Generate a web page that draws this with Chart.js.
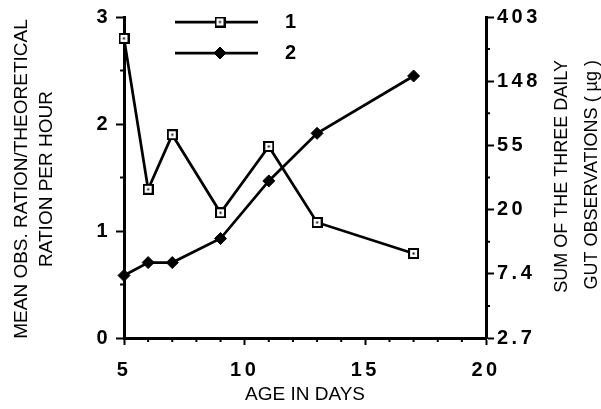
<!DOCTYPE html>
<html>
<head>
<meta charset="utf-8">
<script src="https://cdn.jsdelivr.net/npm/chart.js@4"></script>
<style>
  body { margin: 0; background: #fff; }
  canvas { display: block; }
</style>
</head>
<body>
<canvas id="ageChart" width="601" height="409"></canvas>
<script>
// age (days) against feeding ratio (left, linear) and gut content (right, ln scale)
const days = [5, 6, 7, 9, 11, 13, 17];
const ratioPerHour = [2.80, 1.39, 1.90, 1.17, 1.79, 1.08, 0.79];
const gutSum = [7.2, 8.8, 8.8, 12.8, 31.4, 65.9, 161];
const seriesNames = ['1', '2'];

const dayTicks = [5, 10, 15, 20];
const dayMinorTicks = [6, 7, 8, 9, 11, 12, 13, 14, 16, 17, 18, 19];
const ratioTicks = [0, 1, 2, 3];
const ratioMinorTicks = [0.5, 1.5, 2.5];
const gutTicks = [2.718, 7.389, 20.09, 54.6, 148.4, 403.4];
const gutTickLabels = ['2.7', '7.4', '20', '55', '148', '403'];
const gutMinorTicks = [4.482, 12.18, 33.12, 90.02, 244.7];

const xTitle = 'AGE IN DAYS';
const yTitle = ['MEAN OBS. RATION/THEORETICAL', 'RATION PER HOUR'];
const y1Title = ['SUM OF THE THREE DAILY', 'GUT OBSERVATIONS ( µg )'];

const FAMILY = '"Liberation Sans", Arial, Helvetica, sans-serif';
const tickFont = { family: FAMILY, size: 20, weight: 'bold' };

// open square with a dot in the middle
function squareMarker() {
  const c = document.createElement('canvas');
  c.width = 11; c.height = 11;
  const g = c.getContext('2d');
  g.fillStyle = '#000'; g.fillRect(0, 0, 11, 11);
  g.fillStyle = '#fff'; g.fillRect(2, 2, 7, 7);
  g.fillStyle = '#000'; g.fillRect(4.5, 4.5, 2, 2);
  return c;
}

const axisExtras = {
  id: 'axisExtras',
  beforeDraw(chart) {
    chart.ctx.letterSpacing = '3.5px';
  },
  beforeDatasetsDraw(chart) {
    const ctx = chart.ctx;
    const { x, y, y1 } = chart.scales;
    ctx.letterSpacing = '0px';
    ctx.save();
    ctx.strokeStyle = '#000';
    ctx.lineWidth = 2;
    ctx.beginPath();
    dayMinorTicks.forEach(d => {
      const px = x.getPixelForValue(d);
      ctx.moveTo(px, x.top); ctx.lineTo(px, x.top + 4);
    });
    ratioMinorTicks.forEach(v => {
      const py = y.getPixelForValue(v);
      ctx.moveTo(y.right, py); ctx.lineTo(y.right - 4, py);
    });
    gutMinorTicks.forEach(v => {
      const py = y1.getPixelForValue(v);
      ctx.moveTo(y1.left, py); ctx.lineTo(y1.left + 4, py);
    });
    ctx.stroke();
    ctx.restore();
  },
  afterDraw(chart) {
    const ctx = chart.ctx;
    const { x } = chart.scales;
    ctx.save();
    ctx.letterSpacing = '0px';
    ctx.fillStyle = '#000';
    ctx.font = '19px ' + FAMILY;
    ctx.textBaseline = 'middle';

    ctx.textAlign = 'center';
    ctx.fillText(xTitle, (x.left + x.right) / 2, 395);

    ctx.save();
    ctx.translate(22, 179);
    ctx.rotate(-Math.PI / 2);
    ctx.fillText(yTitle[0], 0, 0);
    ctx.fillText(yTitle[1], 0, 25);
    ctx.restore();

    ctx.save();
    ctx.translate(562, 60);
    ctx.rotate(-Math.PI / 2);
    ctx.textAlign = 'right';
    ctx.font = '18px ' + FAMILY;
    ctx.fillText(y1Title[0], 0, 0);
    ctx.fillText(y1Title[1], 0, 30);
    ctx.restore();

    // legend: line with marker, then the series name
    const rows = [22, 53];
    chart.data.datasets.forEach((ds, i) => {
      const yy = rows[i];
      const opts = chart.getDatasetMeta(i).data[0].options;
      ctx.strokeStyle = '#000';
      ctx.lineWidth = ds.borderWidth;
      ctx.beginPath();
      ctx.moveTo(175, yy); ctx.lineTo(258, yy);
      ctx.stroke();
      ctx.fillStyle = opts.backgroundColor;
      ctx.strokeStyle = opts.borderColor;
      ctx.lineWidth = opts.borderWidth;
      Chart.helpers.drawPoint(ctx, opts, 220, yy);
      ctx.fillStyle = '#000';
      ctx.font = 'bold 20px ' + FAMILY;
      ctx.textAlign = 'left';
      ctx.fillText(ds.label, 285, yy);
    });
    ctx.restore();
  }
};

const axisLine = { color: '#000', width: 3 };
const tickGrid = { drawOnChartArea: false, drawTicks: true, tickLength: 8, tickWidth: 2, color: '#000', tickColor: '#000' };

new Chart(document.getElementById('ageChart'), {
  type: 'line',
  data: {
    datasets: [
      {
        label: seriesNames[0],
        data: days.map((d, i) => ({ x: d, y: ratioPerHour[i] })),
        yAxisID: 'y',
        borderColor: '#000',
        borderWidth: 2.75,
        pointStyle: squareMarker(),
        pointRadius: 5,
        pointBorderWidth: 0,
        tension: 0,
        clip: false
      },
      {
        label: seriesNames[1],
        data: days.map((d, i) => ({ x: d, y: gutSum[i] })),
        yAxisID: 'y1',
        borderColor: '#000',
        backgroundColor: '#000',
        borderWidth: 2.75,
        pointStyle: 'rectRot',
        pointRadius: 6,
        pointBackgroundColor: '#000',
        pointBorderColor: '#000',
        pointBorderWidth: 1,
        tension: 0,
        clip: false
      }
    ]
  },
  options: {
    responsive: false,
    animation: false,
    layout: { padding: { top: 17, left: 0, right: 0, bottom: 0 } },
    plugins: { legend: { display: false }, tooltip: { enabled: false } },
    scales: {
      x: {
        type: 'linear', min: 5, max: 20,
        afterBuildTicks: s => { s.ticks = dayTicks.map(v => ({ value: v })); },
        afterFit: s => { s.height = 71; },
        grid: { ...tickGrid, tickLength: 7 },
        border: axisLine,
        ticks: { color: '#000', font: tickFont, padding: 13, maxRotation: 0, autoSkip: false }
      },
      y: {
        type: 'linear', position: 'left', min: 0, max: 3,
        afterBuildTicks: s => { s.ticks = ratioTicks.map(v => ({ value: v })); },
        afterFit: s => { s.width = 124; },
        grid: tickGrid,
        border: axisLine,
        ticks: { color: '#000', font: tickFont, padding: 5 }
      },
      y1: {
        type: 'logarithmic', position: 'right', min: gutTicks[0], max: gutTicks[gutTicks.length - 1],
        afterBuildTicks: s => { s.ticks = gutTicks.map(v => ({ value: v })); },
        afterFit: s => { s.width = 115; },
        grid: tickGrid,
        border: axisLine,
        ticks: { color: '#000', font: tickFont, padding: 3, callback: (v, i) => gutTickLabels[i] }
      }
    }
  },
  plugins: [axisExtras]
});
</script>
</body>
</html>
